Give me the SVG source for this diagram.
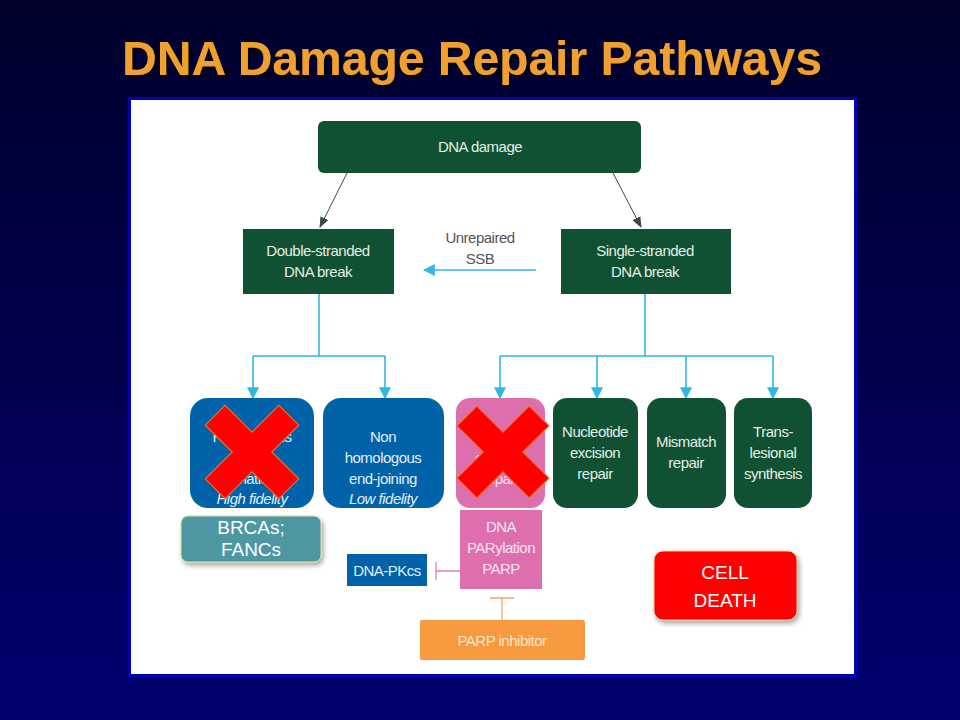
<svg xmlns="http://www.w3.org/2000/svg" width="960" height="720" viewBox="0 0 960 720">
  <defs>
    <linearGradient id="bg" x1="0" y1="0" x2="0" y2="1">
      <stop offset="0" stop-color="#00002c"/>
      <stop offset="1" stop-color="#000070"/>
    </linearGradient>
    <filter id="shadow" x="-20%" y="-20%" width="150%" height="160%">
      <feDropShadow dx="2" dy="3" stdDeviation="2.5" flood-color="#000" flood-opacity="0.35"/>
    </filter>
    <filter id="titleShadow" x="-5%" y="-20%" width="110%" height="150%">
      <feDropShadow dx="2" dy="2" stdDeviation="0.8" flood-color="#000" flood-opacity="0.9"/>
    </filter>
    <marker id="arrCyan" viewBox="0 0 10 10" refX="9" refY="5" markerWidth="12" markerHeight="12" orient="auto" markerUnits="userSpaceOnUse">
      <path d="M0,0 L10,5 L0,10 Z" fill="#2fb8e3"/>
    </marker>
    <marker id="arrGrey" viewBox="0 0 10 10" refX="9" refY="5" markerWidth="11" markerHeight="11" orient="auto" markerUnits="userSpaceOnUse">
      <path d="M0,1 L10,5 L0,9 Z" fill="#3a4a40"/>
    </marker>
    <style>
      .green { fill: #0f5132; }
      .blue { fill: #0062a9; }
      .pink { fill: #dd6fae; }
      .t { font-family: "Liberation Sans", Arial, sans-serif; font-size: 15px; letter-spacing: -0.5px; text-anchor: middle; }
      .tg { fill: #e4efe6; }
      .tb { fill: #e2eef9; }
      .tp { fill: #fbe3ef; }
      .it { font-style: italic; }
      .cyan { stroke: #2fb8e3; stroke-width: 1.6; fill: none; }
      .cross { fill: #ff0000; stroke: #e8702a; stroke-width: 1.2; }
      .big { font-family: "Liberation Sans", Arial, sans-serif; font-size: 19px; fill: #ffffff; text-anchor: middle; }
    </style>
  </defs>

  <!-- slide background and white panel -->
  <rect x="0" y="0" width="960" height="720" fill="url(#bg)"/>
  <rect x="129.5" y="98.5" width="726" height="577" fill="#ffffff" stroke="#0000b4" stroke-width="3"/>

  <text x="472" y="75" font-family="Liberation Sans, Arial, sans-serif" font-size="48" font-weight="bold" fill="#f0a02e" text-anchor="middle" filter="url(#titleShadow)">DNA Damage Repair Pathways</text>

  <!-- connectors -->
  <g id="connectors">
    <line x1="347" y1="173" x2="320" y2="227" stroke="#3a4a40" stroke-width="1" marker-end="url(#arrGrey)"/>
    <line x1="613" y1="173" x2="641" y2="227" stroke="#3a4a40" stroke-width="1" marker-end="url(#arrGrey)"/>
    <line x1="536" y1="270" x2="424" y2="270" class="cyan" marker-end="url(#arrCyan)"/>
    <path d="M319,294 V356 M253,356 H385" class="cyan"/>
    <line x1="253" y1="356" x2="253" y2="398" class="cyan" marker-end="url(#arrCyan)"/>
    <line x1="385" y1="356" x2="385" y2="398" class="cyan" marker-end="url(#arrCyan)"/>
    <path d="M645,294 V356 M500,356 H773" class="cyan"/>
    <line x1="500" y1="356" x2="500" y2="398" class="cyan" marker-end="url(#arrCyan)"/>
    <line x1="597" y1="356" x2="597" y2="398" class="cyan" marker-end="url(#arrCyan)"/>
    <line x1="686" y1="356" x2="686" y2="398" class="cyan" marker-end="url(#arrCyan)"/>
    <line x1="773" y1="356" x2="773" y2="398" class="cyan" marker-end="url(#arrCyan)"/>
    <!-- inhibition bars -->
    <path d="M460,571 H436 M436,562 V580" stroke="#e07fb6" stroke-width="1.3" fill="none"/>
    <path d="M502,620 V598 M490,598 H514" stroke="#f3a865" stroke-width="1.3" fill="none"/>
  </g>

  <g id="dna-damage">
    <rect x="318" y="121" width="323" height="52" rx="6" class="green"/>
    <text x="480" y="152" class="t tg">DNA damage</text>
  </g>

  <g id="dsb">
    <rect x="243" y="229" width="151" height="65" class="green"/>
    <text x="318" y="256" class="t tg">Double-stranded</text>
    <text x="318" y="277" class="t tg">DNA break</text>
  </g>

  <g id="ssb">
    <rect x="561" y="229" width="170" height="65" class="green"/>
    <text x="645" y="256" class="t tg">Single-stranded</text>
    <text x="645" y="277" class="t tg">DNA break</text>
  </g>

  <g id="unrepaired-label">
    <text x="480" y="243" class="t" fill="#555555">Unrepaired</text>
    <text x="480" y="264" class="t" fill="#555555">SSB</text>
  </g>

  <g id="hr">
    <rect x="190" y="398" width="124" height="110" rx="18" class="blue"/>
    <text x="252" y="442" class="t tb">Homologous</text>
    <text x="252" y="463" class="t tb">recom-</text>
    <text x="252" y="484" class="t tb">bination</text>
    <text x="252" y="504" class="t tb it">High fidelity</text>
  </g>

  <g id="nhej">
    <rect x="323" y="398" width="121" height="110" rx="18" class="blue"/>
    <text x="383" y="442" class="t tb">Non</text>
    <text x="383" y="463" class="t tb">homologous</text>
    <text x="383" y="484" class="t tb">end-joining</text>
    <text x="383" y="504" class="t tb it">Low fidelity</text>
  </g>

  <g id="ber">
    <rect x="456" y="398" width="89" height="110" rx="14" class="pink"/>
    <text x="500" y="442" class="t tp">Base</text>
    <text x="500" y="463" class="t tp">excision</text>
    <text x="500" y="484" class="t tp">repair</text>
  </g>

  <g id="ner">
    <rect x="553" y="398" width="85" height="110" rx="14" class="green"/>
    <text x="595" y="437" class="t tg">Nucleotide</text>
    <text x="595" y="458" class="t tg">excision</text>
    <text x="595" y="479" class="t tg">repair</text>
  </g>

  <g id="mmr">
    <rect x="647" y="398" width="79" height="110" rx="14" class="green"/>
    <text x="686" y="447" class="t tg">Mismatch</text>
    <text x="686" y="468" class="t tg">repair</text>
  </g>

  <g id="tls">
    <rect x="734" y="398" width="78" height="110" rx="14" class="green"/>
    <text x="773" y="437" class="t tg">Trans-</text>
    <text x="773" y="458" class="t tg">lesional</text>
    <text x="773" y="479" class="t tg">synthesis</text>
  </g>

  <g id="parp">
    <rect x="460" y="510" width="82" height="79" class="pink"/>
    <text x="501" y="532" class="t tp">DNA</text>
    <text x="501" y="553" class="t tp">PARylation</text>
    <text x="501" y="574" class="t tp">PARP</text>
  </g>

  <g id="dna-pkcs">
    <rect x="347" y="554" width="80" height="32" class="blue"/>
    <text x="387" y="576" class="t tb">DNA-PKcs</text>
  </g>

  <g id="parp-inhibitor">
    <rect x="420" y="620" width="165" height="40" rx="2" fill="#f7993e"/>
    <text x="502" y="646" class="t" fill="#fde6cf">PARP inhibitor</text>
  </g>

  <g id="brca">
    <rect x="181" y="516" width="140" height="46" rx="7" fill="#4d97a2" stroke="#e2dca0" stroke-width="1" filter="url(#shadow)"/>
    <text x="251" y="534" class="big" font-size="17">BRCAs;</text>
    <text x="251" y="556" class="big" font-size="17">FANCs</text>
  </g>

  <g id="cell-death">
    <rect x="654" y="551" width="143" height="69" rx="9" fill="#ff0000" stroke="#f3cc9a" stroke-width="1" filter="url(#shadow)"/>
    <text x="725" y="579" class="big">CELL</text>
    <text x="725" y="607" class="big">DEATH</text>
  </g>

  <!-- crosses over the blocked pathways -->
  <g id="cross-hr" transform="translate(252,452) rotate(45)">
    <polygon class="cross" points="-14,-52 14,-52 14,-14 52,-14 52,14 14,14 14,52 -14,52 -14,14 -52,14 -52,-14 -14,-14"/>
  </g>
  <g id="cross-ber" transform="translate(503,452) rotate(45)">
    <polygon class="cross" points="-14,-51 14,-51 14,-14 51,-14 51,14 14,14 14,51 -14,51 -14,14 -51,14 -51,-14 -14,-14"/>
  </g>
</svg>
